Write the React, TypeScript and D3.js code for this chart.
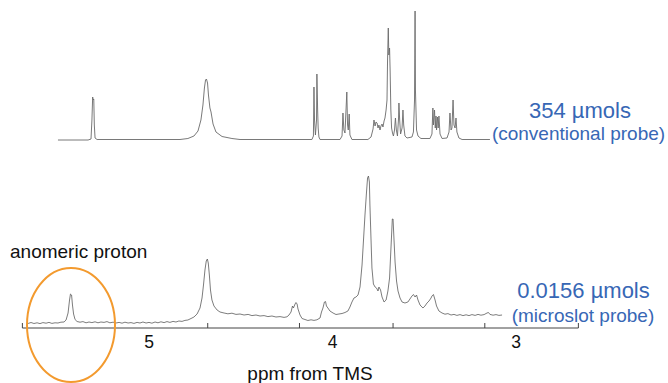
import React from "react";
import * as d3 from "d3";

// ppm, intensity — 354 µmol sample, conventional probe
const topSpectrum: [number, number][] = [
  [5.496, 0], [5.332, 0], [5.316, 1], [5.311, 20], [5.307, 43], [5.304, 40], [5.301, 41], [5.298, 15], [5.294, 2], [5.283, 0.5],
  [4.831, 0.5], [4.788, 1.5], [4.755, 4], [4.733, 9], [4.717, 20], [4.706, 35], [4.698, 52], [4.692, 60], [4.687, 61], [4.681, 57],
  [4.676, 45], [4.668, 32], [4.662, 28], [4.651, 16], [4.635, 8], [4.602, 3.5], [4.548, 1.5], [4.504, 0.5],
  [4.112, 0.5], [4.104, 4], [4.101, 53], [4.098, 20], [4.093, 5], [4.087, 20], [4.085, 66], [4.081, 30], [4.078, 12], [4.074, 3], [4.068, 0.5],
  [3.959, 0.5], [3.948, 4], [3.943, 27], [3.938, 10], [3.932, 7], [3.922, 48], [3.918, 15], [3.914, 10], [3.909, 26], [3.905, 5], [3.894, 0.5],
  [3.807, 0.5], [3.79, 3], [3.779, 11], [3.774, 20], [3.768, 14], [3.763, 18], [3.757, 17], [3.752, 12], [3.747, 15], [3.741, 10],
  [3.736, 14], [3.73, 16], [3.725, 13], [3.719, 19], [3.714, 22], [3.708, 30], [3.703, 40], [3.7, 80], [3.696, 112], [3.693, 85],
  [3.689, 92], [3.686, 70], [3.682, 30], [3.678, 12], [3.673, 7], [3.668, 4], [3.662, 10], [3.657, 22], [3.652, 10], [3.646, 4],
  [3.64, 22], [3.638, 37], [3.634, 20], [3.629, 6], [3.621, 12], [3.616, 30], [3.612, 15], [3.605, 4], [3.594, 2],
  [3.567, 3], [3.559, 8], [3.553, 40], [3.55, 129], [3.548, 50], [3.542, 10], [3.534, 4], [3.518, 1.5],
  [3.469, 1.5], [3.458, 6], [3.453, 32], [3.45, 15], [3.444, 30], [3.44, 12], [3.436, 24], [3.433, 10], [3.428, 23], [3.424, 12],
  [3.42, 24], [3.414, 6], [3.403, 1.5], [3.376, 2], [3.365, 8], [3.36, 27], [3.354, 10], [3.349, 12], [3.343, 40], [3.338, 15],
  [3.332, 12], [3.327, 22], [3.322, 8], [3.311, 2], [3.294, 0.5], [3.142, 0.5],
];

// ppm, intensity — 0.0156 µmol sample, microslot probe
const bottomSpectrum: [number, number][] = [
  [5.659, 0.5], [5.643, 1.5], [5.627, 0.5], [5.61, 1.2], [5.594, 0.4], [5.578, 1.4], [5.561, 0.8], [5.545, 1.6], [5.529, 0.6],
  [5.512, 1.2], [5.496, 1], [5.48, 1.8], [5.463, 2], [5.452, 4], [5.441, 11], [5.433, 24], [5.428, 30], [5.422, 29], [5.417, 19],
  [5.411, 10], [5.403, 4.5], [5.392, 2.5], [5.376, 1.8], [5.36, 2.4], [5.343, 1.2], [5.327, 2], [5.311, 1.4], [5.294, 2.2],
  [5.278, 1.2], [5.262, 2], [5.245, 1.6], [5.229, 2.4], [5.213, 1.2], [5.196, 1.8], [5.18, 1], [5.163, 1.6], [5.147, 0.8],
  [5.131, 1.8], [5.114, 1], [5.098, 1.4], [5.082, 0.6], [5.065, 1.6], [5.049, 1], [5.033, 2], [5.016, 1], [5.0, 1.6],
  [4.984, 0.8], [4.967, 2], [4.951, 1.2], [4.935, 2.2], [4.918, 1.4], [4.902, 2.4], [4.886, 1.6], [4.869, 2.6], [4.853, 2],
  [4.837, 3], [4.82, 2.6], [4.804, 3.6], [4.788, 4], [4.771, 5.5], [4.755, 7], [4.738, 10], [4.722, 16], [4.711, 26],
  [4.703, 39], [4.695, 54], [4.688, 63], [4.682, 65], [4.677, 61], [4.671, 49], [4.665, 34], [4.657, 24], [4.646, 18],
  [4.629, 14], [4.613, 12], [4.591, 11], [4.57, 10.2], [4.548, 10.8], [4.526, 9.6], [4.504, 10], [4.482, 9], [4.46, 9.6],
  [4.439, 8.4], [4.417, 9], [4.395, 8], [4.373, 8.4], [4.352, 7.4], [4.33, 8], [4.308, 7], [4.286, 7.4], [4.264, 6.6],
  [4.248, 7.2], [4.237, 9], [4.226, 12], [4.218, 18], [4.213, 16], [4.204, 20], [4.199, 21.5], [4.193, 20], [4.188, 15],
  [4.177, 9], [4.166, 5.5], [4.15, 4.5], [4.134, 3.5], [4.117, 4.2], [4.101, 3.6], [4.085, 4.2], [4.068, 6], [4.06, 12],
  [4.052, 16], [4.044, 22], [4.038, 22.5], [4.033, 18], [4.025, 16], [4.014, 13], [3.997, 11], [3.981, 9.5], [3.965, 10],
  [3.948, 10.5], [3.932, 11.5], [3.916, 13], [3.905, 17], [3.894, 22], [3.883, 26], [3.872, 27], [3.861, 29], [3.85, 37],
  [3.839, 59], [3.831, 84], [3.823, 109], [3.815, 131], [3.809, 146], [3.804, 148], [3.799, 142], [3.796, 119], [3.79, 84],
  [3.785, 56], [3.777, 40], [3.768, 37], [3.76, 36], [3.752, 33], [3.747, 37], [3.738, 34], [3.73, 27], [3.719, 22],
  [3.708, 24], [3.698, 33], [3.689, 46], [3.684, 66], [3.678, 89], [3.674, 105], [3.67, 105], [3.666, 89], [3.659, 62],
  [3.651, 43], [3.643, 33], [3.632, 26], [3.621, 22], [3.605, 21], [3.589, 22], [3.578, 25], [3.567, 28], [3.559, 29.5],
  [3.55, 27], [3.542, 29], [3.534, 24], [3.523, 19], [3.507, 16], [3.496, 18], [3.485, 21], [3.474, 23], [3.463, 26],
  [3.458, 28], [3.45, 29.5], [3.441, 24], [3.433, 18], [3.42, 13], [3.403, 11], [3.387, 9.8], [3.371, 10.4], [3.354, 9],
  [3.338, 9.6], [3.322, 8.6], [3.305, 9.4], [3.289, 8.4], [3.272, 9.2], [3.256, 8.4], [3.24, 9.4], [3.223, 8.6],
  [3.207, 9.6], [3.191, 8.8], [3.174, 9.4], [3.158, 11], [3.15, 11.5], [3.142, 9.6], [3.125, 8.8], [3.109, 9.4],
  [3.093, 8.6], [3.076, 9],
];

const axisExtent = [5.69, 2.66];
const axisTicks = [4.68, 4.18, 3.67, 3.17];
const tickLabels = [5, 4, 3];

const blue = "#3767b5";

export default function App() {
  const width = 668;
  const height = 383;
  const axisY = 328;

  const x = d3.scaleLinear().domain([5, 3]).range([149, 516]);
  const yTop = d3.scaleLinear().domain([0, 130]).range([140, 10]);
  const yBottom = d3.scaleLinear().domain([0, 150]).range([324, 174]);

  const topLine = d3
    .line<[number, number]>()
    .x((d) => x(d[0]))
    .y((d) => yTop(d[1]));
  const bottomLine = d3
    .line<[number, number]>()
    .x((d) => x(d[0]))
    .y((d) => yBottom(d[1]));

  const x0 = x(axisExtent[0]);
  const x1 = x(axisExtent[1]);

  return (
    <svg
      width={width}
      height={height}
      style={{ position: "absolute", left: 0, top: 0, background: "#fff" }}
      fontFamily="'Liberation Sans', Arial, Helvetica, sans-serif"
    >
      <path d={topLine(topSpectrum) ?? ""} fill="none" stroke="#6a6a6a" strokeWidth={0.9} />
      <path d={bottomLine(bottomSpectrum) ?? ""} fill="none" stroke="#5a5a5a" strokeWidth={0.8} />

      <g stroke="#444" strokeWidth={1} fill="none">
        <line x1={x0} x2={x1} y1={axisY} y2={axisY} />
        <line x1={x0} x2={x0} y1={axisY} y2={axisY - 5} />
        <line x1={x1} x2={x1} y1={axisY} y2={axisY - 5} />
        {axisTicks.map((t) => (
          <line key={t} x1={x(t)} x2={x(t)} y1={axisY} y2={axisY - 5} />
        ))}
      </g>
      {tickLabels.map((t) => (
        <text key={t} x={x(t)} y={348} textAnchor="middle" fontSize={17.5} fill="#111">
          {t}
        </text>
      ))}
      <text x={310} y={380} textAnchor="middle" fontSize={19} fill="#111">
        ppm from TMS
      </text>

      <text x={10} y={258} fontSize={19} fill="#111">
        anomeric proton
      </text>
      <ellipse cx={71} cy={325} rx={44} ry={57} fill="none" stroke="#f39a2e" strokeWidth={2} />

      <text x={580} y={118} textAnchor="middle" fontSize={22} fill={blue}>
        354 µmols
      </text>
      <text x={578.5} y={140} textAnchor="middle" fontSize={19} fill={blue}>
        (conventional probe)
      </text>
      <text x={583.5} y={298} textAnchor="middle" fontSize={22} fill={blue}>
        0.0156 µmols
      </text>
      <text x={583} y={322} textAnchor="middle" fontSize={19} fill={blue}>
        (microslot probe)
      </text>
    </svg>
  );
}
